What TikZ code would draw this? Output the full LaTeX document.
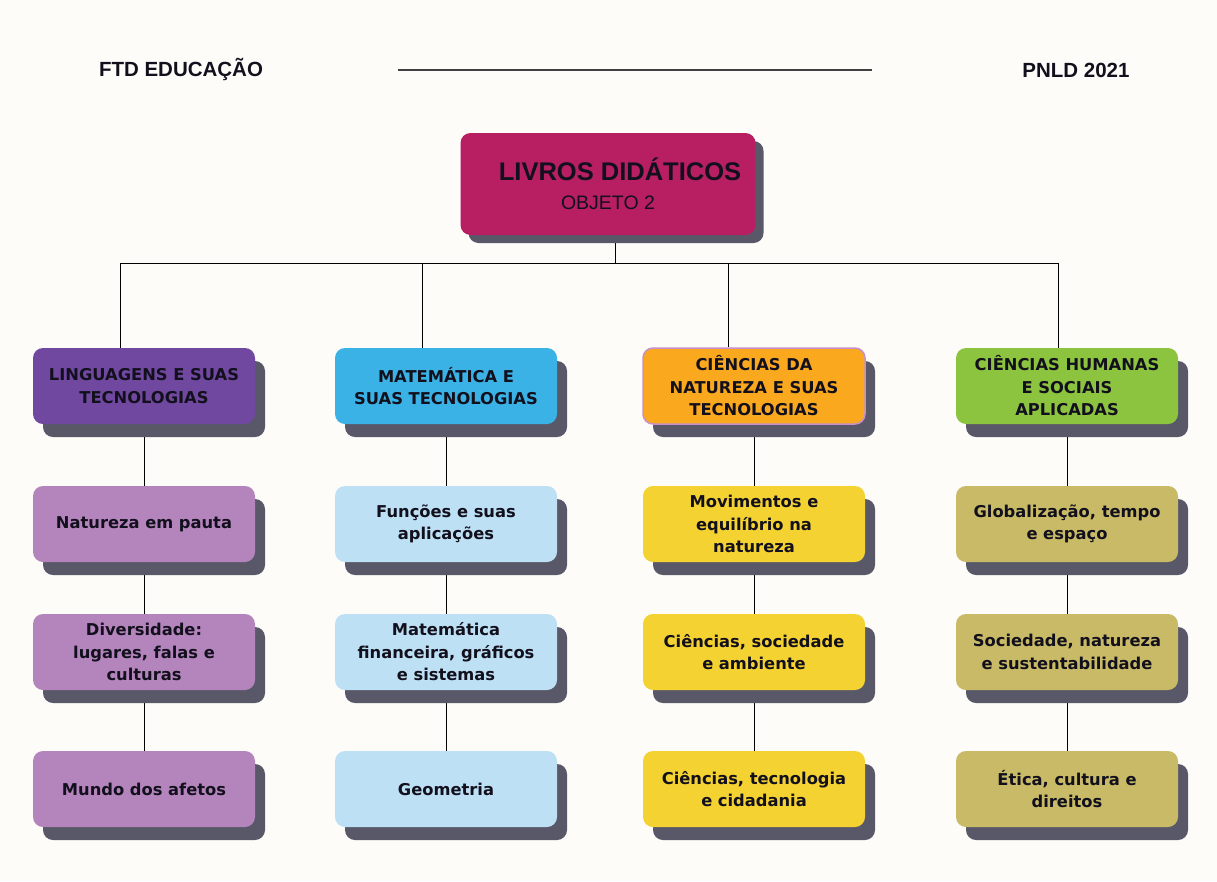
\documentclass[tikz,border=0pt]{standalone}
\usepackage{fontspec}
\setmainfont{Liberation Sans}
\newfontfamily\boxfont{DejaVu Sans}
\usetikzlibrary{shapes,shadows}

\definecolor{paper}{RGB}{253,252,248}
\definecolor{ink}{RGB}{18,16,28}
\definecolor{shade}{RGB}{88,88,104}
\definecolor{livros}{RGB}{184,30,98}
\definecolor{lingcat}{RGB}{112,72,160}
\definecolor{lingsub}{RGB}{180,132,188}
\definecolor{matcat}{RGB}{58,178,230}
\definecolor{matsub}{RGB}{190,224,245}
\definecolor{natcat}{RGB}{250,168,30}
\definecolor{natrim}{RGB}{200,144,200}
\definecolor{natsub}{RGB}{244,210,50}
\definecolor{humcat}{RGB}{140,196,64}
\definecolor{humsub}{RGB}{200,186,102}

\pgfdeclarelayer{paper}
\pgfdeclarelayer{wires}
\pgfsetlayers{paper,wires,main}

\begin{document}
\begin{tikzpicture}[x=1pt,y=-1pt,line width=1.6pt,node distance=134pt]
\tikzstyle{every node}=[text=ink]
\tikzstyle{box}=[rectangle,rounded corners=10pt,align=center,inner sep=4pt,
  minimum width=222pt,minimum height=76pt,font=\boxfont\bfseries\fontsize{16.3}{22.5}\selectfont,
  drop shadow={shadow xshift=10pt,shadow yshift=-13pt,fill=shade,opacity=1}]
\tikzstyle{head}=[font=\bfseries\fontsize{20.5}{24}\selectfont]
\useasboundingbox (0,0) rectangle (1217,881);
\begin{pgfonlayer}{paper}
\fill[paper] (0,0) rectangle (1217,881);
\end{pgfonlayer}

% header
\node[head] (ftd) at (181,70) {FTD EDUCAÇÃO};
\node[head] (pnld) at (1076,70) {PNLD 2021};
\coordinate (rulea) at (398,70);
\coordinate (ruleb) at (872,70);
\draw[line width=2pt,black!75] (rulea) -- (ruleb);

% top
\node[rectangle,rounded corners=10pt,align=center,minimum width=295pt,minimum height=102pt,
  fill=livros,font=\fontsize{19.5}{29}\selectfont,
  drop shadow={shadow xshift=8pt,shadow yshift=-8pt,fill=shade,opacity=1}]
  (top) at (608,184)
  {{\bfseries\fontsize{25.5}{29}\selectfont\hspace*{24pt}LIVROS DIDÁTICOS}\\
   OBJETO 2};

% areas
\node[box,fill=lingcat] (L1) at (144,386) {LINGUAGENS E SUAS\\TECNOLOGIAS};
\node[box,fill=matcat] (M1) at (446,386) {MATEMÁTICA E\\SUAS TECNOLOGIAS};
\node[box,fill=natcat,draw=natrim,line width=1.5pt] (C1) at (754,386) {CIÊNCIAS DA\\NATUREZA E SUAS\\TECNOLOGIAS};
\node[box,fill=humcat] (H1) at (1067,386) {CIÊNCIAS HUMANAS\\E SOCIAIS\\APLICADAS};

% obras
\node[box,fill=lingsub][below of=L1,node distance=138pt] (L2) {Natureza em pauta};
\node[box,fill=lingsub][below of=L2,node distance=128pt] (L3) {Diversidade:\\lugares, falas e\\culturas};
\node[box,fill=lingsub][below of=L3,node distance=137pt] (L4) {Mundo dos afetos};

\node[box,fill=matsub][below of=M1,node distance=138pt] (M2) {Funções e suas\\aplicações};
\node[box,fill=matsub][below of=M2,node distance=128pt] (M3) {Matemática\\financeira, gráficos\\e sistemas};
\node[box,fill=matsub][below of=M3,node distance=137pt] (M4) {Geometria};

\node[box,fill=natsub][below of=C1,node distance=138pt] (C2) {Movimentos e\\equilíbrio na\\natureza};
\node[box,fill=natsub][below of=C2,node distance=128pt] (C3) {Ciências, sociedade\\e ambiente};
\node[box,fill=natsub][below of=C3,node distance=137pt] (C4) {Ciências, tecnologia\\e cidadania};

\node[box,fill=humsub][below of=H1,node distance=138pt] (H2) {Globalização, tempo\\e espaço};
\node[box,fill=humsub][below of=H2,node distance=128pt] (H3) {Sociedade, natureza\\e sustentabilidade};
\node[box,fill=humsub][below of=H3,node distance=137pt] (H4) {Ética, cultura e\\direitos};

% ligacoes
\coordinate (bar) at (615,263);
\coordinate (dL) at (120,263);
\coordinate (dM) at (422,263);
\coordinate (dC) at (728,263);
\coordinate (dH) at (1058,263);
\begin{pgfonlayer}{wires}
\draw (top.south -| bar) -- (bar);
\draw (dL |- L1.north) -- (dL) -- (dH) -- (dH |- H1.north);
\draw (dM) -- (dM |- M1.north);
\draw (dC) -- (dC |- C1.north);
\path[draw] (L1)--(L2) (L2)--(L3) (L3)--(L4)
            (M1)--(M2) (M2)--(M3) (M3)--(M4)
            (C1)--(C2) (C2)--(C3) (C3)--(C4)
            (H1)--(H2) (H2)--(H3) (H3)--(H4);
\end{pgfonlayer}
\end{tikzpicture}
\end{document}
